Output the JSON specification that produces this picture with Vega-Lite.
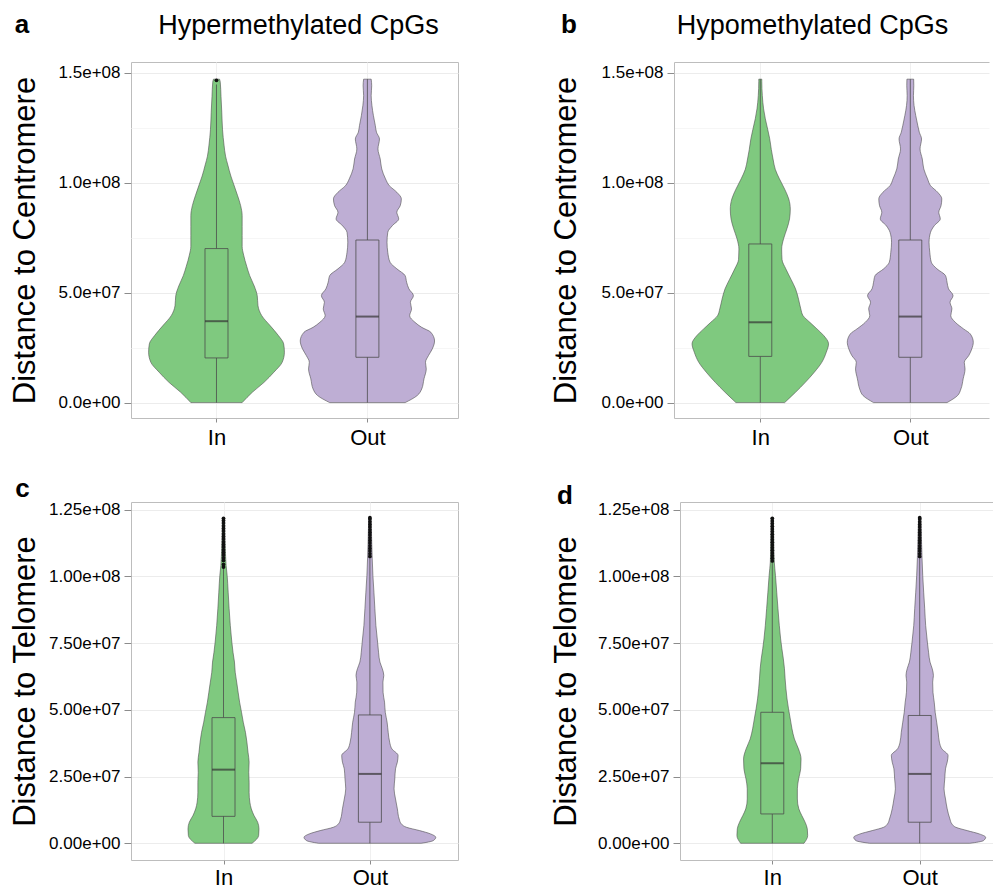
{
"$schema": "https://vega.github.io/schema/vega-lite/v6.json",
"padding": {"left": 8, "top": 11, "right": 0, "bottom": 0},
"background": "white",
"config": {
  "view": {"stroke": "#bdbdbd", "strokeWidth": 1},
  "axis": {"labelFont": "Liberation Sans", "labelColor": "#000", "labelFontSize": 17, "tickColor": "#8c8c8c", "tickSize": 7, "labelPadding": 4, "domainColor": "#bdbdbd", "titleFont": "Liberation Sans", "titleFontSize": 31, "titleFontWeight": "normal", "titleColor": "#000", "titlePadding": 7, "gridWidth": 1},
  "axisX": {"labelFontSize": 22, "tickSize": 4, "labelPadding": 5, "labelAngle": 0},
  "title": {"font": "Liberation Sans", "color": "#000", "fontWeight": "normal"}
},
"datasets": {
"vio": [
{"p":"a","g":"In","d":0,"w":0.34},{"p":"a","g":"In","d":4.7e6,"w":0.475},{"p":"a","g":"In","d":9.2e6,"w":0.63},{"p":"a","g":"In","d":1.38e7,"w":0.76},{"p":"a","g":"In","d":1.83e7,"w":0.87},{"p":"a","g":"In","d":2.29e7,"w":0.90},{"p":"a","g":"In","d":2.67e7,"w":0.89},{"p":"a","g":"In","d":3.05e7,"w":0.82},{"p":"a","g":"In","d":3.5e7,"w":0.71},{"p":"a","g":"In","d":3.95e7,"w":0.60},{"p":"a","g":"In","d":4.4e7,"w":0.55},{"p":"a","g":"In","d":4.86e7,"w":0.54},{"p":"a","g":"In","d":5.3e7,"w":0.50},{"p":"a","g":"In","d":5.77e7,"w":0.44},{"p":"a","g":"In","d":6.2e7,"w":0.40},{"p":"a","g":"In","d":6.7e7,"w":0.36},{"p":"a","g":"In","d":7.1e7,"w":0.34},{"p":"a","g":"In","d":7.6e7,"w":0.34},{"p":"a","g":"In","d":8.0e7,"w":0.34},{"p":"a","g":"In","d":8.5e7,"w":0.34},{"p":"a","g":"In","d":8.95e7,"w":0.32},{"p":"a","g":"In","d":9.4e7,"w":0.28},{"p":"a","g":"In","d":9.9e7,"w":0.23},{"p":"a","g":"In","d":1.03e8,"w":0.19},{"p":"a","g":"In","d":1.08e8,"w":0.15},{"p":"a","g":"In","d":1.12e8,"w":0.12},{"p":"a","g":"In","d":1.17e8,"w":0.10},{"p":"a","g":"In","d":1.24e8,"w":0.08},{"p":"a","g":"In","d":1.32e8,"w":0.07},{"p":"a","g":"In","d":1.39e8,"w":0.06},{"p":"a","g":"In","d":1.456e8,"w":0.05},{"p":"a","g":"In","d":1.47e8,"w":0.04},
{"p":"a","g":"Out","d":0,"w":0.50},{"p":"a","g":"Out","d":3.2e6,"w":0.66},{"p":"a","g":"Out","d":6.2e6,"w":0.72},{"p":"a","g":"Out","d":1.08e7,"w":0.75},{"p":"a","g":"Out","d":1.53e7,"w":0.78},{"p":"a","g":"Out","d":1.83e7,"w":0.77},{"p":"a","g":"Out","d":2.14e7,"w":0.81},{"p":"a","g":"Out","d":2.44e7,"w":0.86},{"p":"a","g":"Out","d":2.8e7,"w":0.89},{"p":"a","g":"Out","d":3.2e7,"w":0.84},{"p":"a","g":"Out","d":3.42e7,"w":0.72},{"p":"a","g":"Out","d":3.65e7,"w":0.63},{"p":"a","g":"Out","d":3.95e7,"w":0.56},{"p":"a","g":"Out","d":4.26e7,"w":0.585},{"p":"a","g":"Out","d":4.56e7,"w":0.57},{"p":"a","g":"Out","d":4.86e7,"w":0.61},{"p":"a","g":"Out","d":5.17e7,"w":0.55},{"p":"a","g":"Out","d":5.47e7,"w":0.52},{"p":"a","g":"Out","d":5.77e7,"w":0.50},{"p":"a","g":"Out","d":6.08e7,"w":0.39},{"p":"a","g":"Out","d":6.38e7,"w":0.30},{"p":"a","g":"Out","d":6.83e7,"w":0.27},{"p":"a","g":"Out","d":7.29e7,"w":0.26},{"p":"a","g":"Out","d":7.74e7,"w":0.27},{"p":"a","g":"Out","d":8.04e7,"w":0.33},{"p":"a","g":"Out","d":8.35e7,"w":0.415},{"p":"a","g":"Out","d":8.65e7,"w":0.39},{"p":"a","g":"Out","d":8.95e7,"w":0.435},{"p":"a","g":"Out","d":9.26e7,"w":0.45},{"p":"a","g":"Out","d":9.56e7,"w":0.39},{"p":"a","g":"Out","d":9.86e7,"w":0.29},{"p":"a","g":"Out","d":1.017e8,"w":0.24},{"p":"a","g":"Out","d":1.062e8,"w":0.19},{"p":"a","g":"Out","d":1.107e8,"w":0.17},{"p":"a","g":"Out","d":1.153e8,"w":0.14},{"p":"a","g":"Out","d":1.198e8,"w":0.16},{"p":"a","g":"Out","d":1.229e8,"w":0.12},{"p":"a","g":"Out","d":1.259e8,"w":0.105},{"p":"a","g":"Out","d":1.304e8,"w":0.08},{"p":"a","g":"Out","d":1.35e8,"w":0.06},{"p":"a","g":"Out","d":1.395e8,"w":0.05},{"p":"a","g":"Out","d":1.44e8,"w":0.057},{"p":"a","g":"Out","d":1.47e8,"w":0.05},
{"p":"b","g":"In","d":0,"w":0.325},{"p":"b","g":"In","d":4.7e6,"w":0.47},{"p":"b","g":"In","d":9.2e6,"w":0.60},{"p":"b","g":"In","d":1.38e7,"w":0.72},{"p":"b","g":"In","d":1.83e7,"w":0.82},{"p":"b","g":"In","d":2.29e7,"w":0.88},{"p":"b","g":"In","d":2.67e7,"w":0.91},{"p":"b","g":"In","d":3.05e7,"w":0.845},{"p":"b","g":"In","d":3.35e7,"w":0.755},{"p":"b","g":"In","d":3.65e7,"w":0.66},{"p":"b","g":"In","d":3.95e7,"w":0.57},{"p":"b","g":"In","d":4.26e7,"w":0.54},{"p":"b","g":"In","d":4.7e7,"w":0.51},{"p":"b","g":"In","d":5.17e7,"w":0.47},{"p":"b","g":"In","d":5.6e7,"w":0.41},{"p":"b","g":"In","d":6.08e7,"w":0.34},{"p":"b","g":"In","d":6.5e7,"w":0.29},{"p":"b","g":"In","d":6.98e7,"w":0.285},{"p":"b","g":"In","d":7.44e7,"w":0.31},{"p":"b","g":"In","d":7.9e7,"w":0.355},{"p":"b","g":"In","d":8.35e7,"w":0.39},{"p":"b","g":"In","d":8.8e7,"w":0.40},{"p":"b","g":"In","d":9.25e7,"w":0.38},{"p":"b","g":"In","d":9.7e7,"w":0.325},{"p":"b","g":"In","d":1.017e8,"w":0.255},{"p":"b","g":"In","d":1.06e8,"w":0.20},{"p":"b","g":"In","d":1.107e8,"w":0.17},{"p":"b","g":"In","d":1.15e8,"w":0.147},{"p":"b","g":"In","d":1.2e8,"w":0.125},{"p":"b","g":"In","d":1.24e8,"w":0.10},{"p":"b","g":"In","d":1.29e8,"w":0.067},{"p":"b","g":"In","d":1.335e8,"w":0.044},{"p":"b","g":"In","d":1.395e8,"w":0.027},{"p":"b","g":"In","d":1.46e8,"w":0.02},{"p":"b","g":"In","d":1.47e8,"w":0.02},
{"p":"b","g":"Out","d":0,"w":0.49},{"p":"b","g":"Out","d":3.2e6,"w":0.63},{"p":"b","g":"Out","d":6.2e6,"w":0.675},{"p":"b","g":"Out","d":1.08e7,"w":0.705},{"p":"b","g":"Out","d":1.53e7,"w":0.73},{"p":"b","g":"Out","d":1.83e7,"w":0.72},{"p":"b","g":"Out","d":2.14e7,"w":0.78},{"p":"b","g":"Out","d":2.44e7,"w":0.82},{"p":"b","g":"Out","d":2.74e7,"w":0.84},{"p":"b","g":"Out","d":3.12e7,"w":0.80},{"p":"b","g":"Out","d":3.35e7,"w":0.71},{"p":"b","g":"Out","d":3.65e7,"w":0.60},{"p":"b","g":"Out","d":3.95e7,"w":0.54},{"p":"b","g":"Out","d":4.26e7,"w":0.555},{"p":"b","g":"Out","d":4.56e7,"w":0.53},{"p":"b","g":"Out","d":4.86e7,"w":0.57},{"p":"b","g":"Out","d":5.17e7,"w":0.51},{"p":"b","g":"Out","d":5.47e7,"w":0.49},{"p":"b","g":"Out","d":5.77e7,"w":0.47},{"p":"b","g":"Out","d":6.08e7,"w":0.355},{"p":"b","g":"Out","d":6.38e7,"w":0.28},{"p":"b","g":"Out","d":6.83e7,"w":0.26},{"p":"b","g":"Out","d":7.29e7,"w":0.25},{"p":"b","g":"Out","d":7.74e7,"w":0.27},{"p":"b","g":"Out","d":8.04e7,"w":0.32},{"p":"b","g":"Out","d":8.35e7,"w":0.40},{"p":"b","g":"Out","d":8.65e7,"w":0.38},{"p":"b","g":"Out","d":8.95e7,"w":0.41},{"p":"b","g":"Out","d":9.26e7,"w":0.42},{"p":"b","g":"Out","d":9.56e7,"w":0.365},{"p":"b","g":"Out","d":9.86e7,"w":0.27},{"p":"b","g":"Out","d":1.017e8,"w":0.23},{"p":"b","g":"Out","d":1.062e8,"w":0.18},{"p":"b","g":"Out","d":1.107e8,"w":0.16},{"p":"b","g":"Out","d":1.153e8,"w":0.13},{"p":"b","g":"Out","d":1.198e8,"w":0.15},{"p":"b","g":"Out","d":1.229e8,"w":0.12},{"p":"b","g":"Out","d":1.259e8,"w":0.10},{"p":"b","g":"Out","d":1.304e8,"w":0.073},{"p":"b","g":"Out","d":1.35e8,"w":0.05},{"p":"b","g":"Out","d":1.395e8,"w":0.042},{"p":"b","g":"Out","d":1.44e8,"w":0.047},{"p":"b","g":"Out","d":1.47e8,"w":0.045},
{"p":"c","g":"In","d":0,"w":0.39},{"p":"c","g":"In","d":2.9e6,"w":0.48},{"p":"c","g":"In","d":5.4e6,"w":0.485},{"p":"c","g":"In","d":7.9e6,"w":0.467},{"p":"c","g":"In","d":1.04e7,"w":0.417},{"p":"c","g":"In","d":1.29e7,"w":0.38},{"p":"c","g":"In","d":1.54e7,"w":0.36},{"p":"c","g":"In","d":1.91e7,"w":0.35},{"p":"c","g":"In","d":2.29e7,"w":0.35},{"p":"c","g":"In","d":2.66e7,"w":0.345},{"p":"c","g":"In","d":3.04e7,"w":0.35},{"p":"c","g":"In","d":3.41e7,"w":0.335},{"p":"c","g":"In","d":3.79e7,"w":0.32},{"p":"c","g":"In","d":4.16e7,"w":0.30},{"p":"c","g":"In","d":4.54e7,"w":0.27},{"p":"c","g":"In","d":4.91e7,"w":0.246},{"p":"c","g":"In","d":5.29e7,"w":0.22},{"p":"c","g":"In","d":5.66e7,"w":0.20},{"p":"c","g":"In","d":6.04e7,"w":0.18},{"p":"c","g":"In","d":6.41e7,"w":0.16},{"p":"c","g":"In","d":6.79e7,"w":0.15},{"p":"c","g":"In","d":7.16e7,"w":0.13},{"p":"c","g":"In","d":7.54e7,"w":0.114},{"p":"c","g":"In","d":8.16e7,"w":0.093},{"p":"c","g":"In","d":8.79e7,"w":0.077},{"p":"c","g":"In","d":9.41e7,"w":0.064},{"p":"c","g":"In","d":1.004e8,"w":0.05},{"p":"c","g":"In","d":1.041e8,"w":0.036},{"p":"c","g":"In","d":1.104e8,"w":0.025},{"p":"c","g":"In","d":1.166e8,"w":0.018},{"p":"c","g":"In","d":1.22e8,"w":0.015},
{"p":"c","g":"Out","d":0,"w":0.70},{"p":"c","g":"Out","d":1.0e6,"w":0.865},{"p":"c","g":"Out","d":2.25e6,"w":0.90},{"p":"c","g":"Out","d":3.5e6,"w":0.83},{"p":"c","g":"Out","d":4.75e6,"w":0.68},{"p":"c","g":"Out","d":6.0e6,"w":0.50},{"p":"c","g":"Out","d":7.25e6,"w":0.43},{"p":"c","g":"Out","d":9.1e6,"w":0.40},{"p":"c","g":"Out","d":1.29e7,"w":0.375},{"p":"c","g":"Out","d":1.66e7,"w":0.35},{"p":"c","g":"Out","d":2.04e7,"w":0.33},{"p":"c","g":"Out","d":2.41e7,"w":0.34},{"p":"c","g":"Out","d":2.79e7,"w":0.35},{"p":"c","g":"Out","d":3.04e7,"w":0.375},{"p":"c","g":"Out","d":3.29e7,"w":0.385},{"p":"c","g":"Out","d":3.54e7,"w":0.30},{"p":"c","g":"Out","d":3.79e7,"w":0.27},{"p":"c","g":"Out","d":4.16e7,"w":0.25},{"p":"c","g":"Out","d":4.54e7,"w":0.235},{"p":"c","g":"Out","d":4.91e7,"w":0.21},{"p":"c","g":"Out","d":5.29e7,"w":0.20},{"p":"c","g":"Out","d":5.66e7,"w":0.18},{"p":"c","g":"Out","d":6.04e7,"w":0.178},{"p":"c","g":"Out","d":6.29e7,"w":0.19},{"p":"c","g":"Out","d":6.54e7,"w":0.17},{"p":"c","g":"Out","d":6.79e7,"w":0.137},{"p":"c","g":"Out","d":7.16e7,"w":0.118},{"p":"c","g":"Out","d":7.54e7,"w":0.105},{"p":"c","g":"Out","d":8.16e7,"w":0.082},{"p":"c","g":"Out","d":8.79e7,"w":0.068},{"p":"c","g":"Out","d":9.41e7,"w":0.055},{"p":"c","g":"Out","d":1.004e8,"w":0.041},{"p":"c","g":"Out","d":1.066e8,"w":0.032},{"p":"c","g":"Out","d":1.129e8,"w":0.025},{"p":"c","g":"Out","d":1.179e8,"w":0.02},{"p":"c","g":"Out","d":1.22e8,"w":0.015},
{"p":"d","g":"In","d":0,"w":0.43},{"p":"d","g":"In","d":2.9e6,"w":0.48},{"p":"d","g":"In","d":5.4e6,"w":0.475},{"p":"d","g":"In","d":7.9e6,"w":0.445},{"p":"d","g":"In","d":1.04e7,"w":0.40},{"p":"d","g":"In","d":1.29e7,"w":0.36},{"p":"d","g":"In","d":1.66e7,"w":0.34},{"p":"d","g":"In","d":2.04e7,"w":0.34},{"p":"d","g":"In","d":2.41e7,"w":0.357},{"p":"d","g":"In","d":2.79e7,"w":0.385},{"p":"d","g":"In","d":3.16e7,"w":0.39},{"p":"d","g":"In","d":3.54e7,"w":0.355},{"p":"d","g":"In","d":3.91e7,"w":0.30},{"p":"d","g":"In","d":4.29e7,"w":0.267},{"p":"d","g":"In","d":4.66e7,"w":0.244},{"p":"d","g":"In","d":5.04e7,"w":0.22},{"p":"d","g":"In","d":5.41e7,"w":0.20},{"p":"d","g":"In","d":5.79e7,"w":0.185},{"p":"d","g":"In","d":6.16e7,"w":0.174},{"p":"d","g":"In","d":6.54e7,"w":0.165},{"p":"d","g":"In","d":6.91e7,"w":0.15},{"p":"d","g":"In","d":7.29e7,"w":0.13},{"p":"d","g":"In","d":7.66e7,"w":0.113},{"p":"d","g":"In","d":8.16e7,"w":0.095},{"p":"d","g":"In","d":8.79e7,"w":0.077},{"p":"d","g":"In","d":9.41e7,"w":0.06},{"p":"d","g":"In","d":1.004e8,"w":0.043},{"p":"d","g":"In","d":1.054e8,"w":0.027},{"p":"d","g":"In","d":1.129e8,"w":0.02},{"p":"d","g":"In","d":1.22e8,"w":0.015},
{"p":"d","g":"Out","d":0,"w":0.68},{"p":"d","g":"Out","d":1.0e6,"w":0.865},{"p":"d","g":"Out","d":2.25e6,"w":0.895},{"p":"d","g":"Out","d":3.5e6,"w":0.81},{"p":"d","g":"Out","d":4.75e6,"w":0.645},{"p":"d","g":"Out","d":6.0e6,"w":0.49},{"p":"d","g":"Out","d":7.25e6,"w":0.437},{"p":"d","g":"Out","d":9.1e6,"w":0.41},{"p":"d","g":"Out","d":1.29e7,"w":0.373},{"p":"d","g":"Out","d":1.66e7,"w":0.35},{"p":"d","g":"Out","d":2.04e7,"w":0.33},{"p":"d","g":"Out","d":2.41e7,"w":0.34},{"p":"d","g":"Out","d":2.79e7,"w":0.35},{"p":"d","g":"Out","d":3.04e7,"w":0.373},{"p":"d","g":"Out","d":3.29e7,"w":0.385},{"p":"d","g":"Out","d":3.54e7,"w":0.30},{"p":"d","g":"Out","d":3.79e7,"w":0.267},{"p":"d","g":"Out","d":4.16e7,"w":0.25},{"p":"d","g":"Out","d":4.54e7,"w":0.23},{"p":"d","g":"Out","d":4.91e7,"w":0.21},{"p":"d","g":"Out","d":5.29e7,"w":0.197},{"p":"d","g":"Out","d":5.66e7,"w":0.18},{"p":"d","g":"Out","d":6.04e7,"w":0.176},{"p":"d","g":"Out","d":6.29e7,"w":0.186},{"p":"d","g":"Out","d":6.54e7,"w":0.17},{"p":"d","g":"Out","d":6.79e7,"w":0.14},{"p":"d","g":"Out","d":7.16e7,"w":0.12},{"p":"d","g":"Out","d":7.54e7,"w":0.104},{"p":"d","g":"Out","d":8.16e7,"w":0.081},{"p":"d","g":"Out","d":8.79e7,"w":0.068},{"p":"d","g":"Out","d":9.41e7,"w":0.054},{"p":"d","g":"Out","d":1.004e8,"w":0.041},{"p":"d","g":"Out","d":1.066e8,"w":0.032},{"p":"d","g":"Out","d":1.129e8,"w":0.025},{"p":"d","g":"Out","d":1.179e8,"w":0.02},{"p":"d","g":"Out","d":1.22e8,"w":0.015}
],
"box": [
{"p":"a","g":"In","lo":0,"q1":2.03e7,"med":3.7e7,"q3":7.0e7,"hi":1.446e8},
{"p":"a","g":"Out","lo":0,"q1":2.06e7,"med":3.91e7,"q3":7.39e7,"hi":1.47e8},
{"p":"b","g":"In","lo":0,"q1":2.1e7,"med":3.65e7,"q3":7.21e7,"hi":1.47e8},
{"p":"b","g":"Out","lo":0,"q1":2.06e7,"med":3.91e7,"q3":7.39e7,"hi":1.47e8},
{"p":"c","g":"In","lo":0,"q1":1.01e7,"med":2.76e7,"q3":4.71e7,"hi":1.03e8},
{"p":"c","g":"Out","lo":0,"q1":7.9e6,"med":2.6e7,"q3":4.81e7,"hi":1.075e8},
{"p":"d","g":"In","lo":0,"q1":1.1e7,"med":3.0e7,"q3":4.91e7,"hi":1.055e8},
{"p":"d","g":"Out","lo":0,"q1":7.9e6,"med":2.6e7,"q3":4.79e7,"hi":1.075e8}
],
"out": [
{"p":"a","g":"In","v":1.465e8},
{"p":"c","g":"In","v":1.035e8},{"p":"c","g":"In","v":1.045e8},{"p":"c","g":"In","v":1.06e8},{"p":"c","g":"In","v":1.07e8},{"p":"c","g":"In","v":1.08e8},{"p":"c","g":"In","v":1.09e8},{"p":"c","g":"In","v":1.10e8},{"p":"c","g":"In","v":1.11e8},{"p":"c","g":"In","v":1.12e8},{"p":"c","g":"In","v":1.13e8},{"p":"c","g":"In","v":1.14e8},{"p":"c","g":"In","v":1.15e8},{"p":"c","g":"In","v":1.16e8},{"p":"c","g":"In","v":1.17e8},{"p":"c","g":"In","v":1.18e8},{"p":"c","g":"In","v":1.19e8},{"p":"c","g":"In","v":1.20e8},{"p":"c","g":"In","v":1.21e8},{"p":"c","g":"In","v":1.218e8},
{"p":"c","g":"Out","v":1.075e8},{"p":"c","g":"Out","v":1.085e8},{"p":"c","g":"Out","v":1.095e8},{"p":"c","g":"Out","v":1.105e8},{"p":"c","g":"Out","v":1.115e8},{"p":"c","g":"Out","v":1.125e8},{"p":"c","g":"Out","v":1.135e8},{"p":"c","g":"Out","v":1.145e8},{"p":"c","g":"Out","v":1.155e8},{"p":"c","g":"Out","v":1.165e8},{"p":"c","g":"Out","v":1.175e8},{"p":"c","g":"Out","v":1.185e8},{"p":"c","g":"Out","v":1.195e8},{"p":"c","g":"Out","v":1.205e8},{"p":"c","g":"Out","v":1.215e8},{"p":"c","g":"Out","v":1.22e8},
{"p":"d","g":"In","v":1.058e8},{"p":"d","g":"In","v":1.068e8},{"p":"d","g":"In","v":1.078e8},{"p":"d","g":"In","v":1.088e8},{"p":"d","g":"In","v":1.098e8},{"p":"d","g":"In","v":1.108e8},{"p":"d","g":"In","v":1.118e8},{"p":"d","g":"In","v":1.128e8},{"p":"d","g":"In","v":1.138e8},{"p":"d","g":"In","v":1.148e8},{"p":"d","g":"In","v":1.158e8},{"p":"d","g":"In","v":1.168e8},{"p":"d","g":"In","v":1.178e8},{"p":"d","g":"In","v":1.188e8},{"p":"d","g":"In","v":1.198e8},{"p":"d","g":"In","v":1.208e8},{"p":"d","g":"In","v":1.218e8},
{"p":"d","g":"Out","v":1.075e8},{"p":"d","g":"Out","v":1.085e8},{"p":"d","g":"Out","v":1.095e8},{"p":"d","g":"Out","v":1.105e8},{"p":"d","g":"Out","v":1.115e8},{"p":"d","g":"Out","v":1.125e8},{"p":"d","g":"Out","v":1.135e8},{"p":"d","g":"Out","v":1.145e8},{"p":"d","g":"Out","v":1.155e8},{"p":"d","g":"Out","v":1.165e8},{"p":"d","g":"Out","v":1.175e8},{"p":"d","g":"Out","v":1.185e8},{"p":"d","g":"Out","v":1.195e8},{"p":"d","g":"Out","v":1.205e8},{"p":"d","g":"Out","v":1.215e8},{"p":"d","g":"Out","v":1.22e8}
]
},
"columns": 2,
"align": {"row": "each", "column": "none"},
"spacing": {"row": 26, "column": 90},
"concat": [
 {"title": {"text": "a", "anchor": "start", "frame": "bounds", "fontSize": 26, "fontWeight": "bold", "dx": 6, "offset": -47, "baseline": "alphabetic"},
  "vconcat": [
  {"title": {"text": "Hypermethylated CpGs", "fontSize": 27, "anchor": "middle", "frame": "group", "dx": 4, "offset": 1, "baseline": "alphabetic"},
   "width": 327, "height": 356,
   "resolve": {"scale": {"x": "independent"}},
   "layer": [
    {"data": {"name": "vio"}, "transform": [{"filter": "datum.p == 'a' && datum.g == 'In'"}],
     "mark": {"type": "area", "orient": "horizontal", "interpolate": "monotone", "stroke": "#4d4d4d", "strokeWidth": 0.7, "strokeOpacity": 0.85, "fillOpacity": 1},
     "encoding": {
      "y": {"field": "d", "type": "quantitative", "title": "Distance to Centromere", "scale": {"domain": [-7.0e6, 1.548e8], "nice": false, "zero": false},
        "axis": {"values": [0, 25000000, 50000000, 75000000, 100000000, 125000000, 150000000], "labelExpr": "datum.value % 50000000 != 0 ? '' : replace(format(datum.value, '.1e'), regexp('e[+]([0-9])$'), 'e+0$1')", "gridColor": {"condition": {"test": "datum.value % 50000000 != 0", "value": "#f6f6f6"}, "value": "#ececec"}, "tickOpacity": {"condition": {"test": "datum.value % 50000000 != 0", "value": 0}, "value": 1}, "domain": false, "titleX": -96.7, "titleBaseline": "alphabetic"}},
      "x": {"field": "w", "type": "quantitative", "stack": "center", "impute": null, "scale": {"domain": [-0.1166, 2.0504], "nice": false, "zero": false}, "axis": null},
      "color": {"field": "g", "type": "nominal", "scale": {"domain": ["In", "Out"], "range": ["#7fc97f", "#beaed4"]}, "legend": null}}},
    {"data": {"name": "vio"}, "transform": [{"filter": "datum.p == 'a' && datum.g == 'Out'"}],
     "mark": {"type": "area", "orient": "horizontal", "interpolate": "monotone", "stroke": "#4d4d4d", "strokeWidth": 0.7, "strokeOpacity": 0.85, "fillOpacity": 1},
     "encoding": {
      "y": {"field": "d", "type": "quantitative", "title": "Distance to Centromere"},
      "x": {"field": "w", "type": "quantitative", "stack": "center", "impute": null, "scale": {"domain": [-1.1216, 1.0454], "nice": false, "zero": false}, "axis": null},
      "color": {"field": "g", "type": "nominal", "legend": null}}},
    {"layer": [
     {"data": {"name": "box"}, "transform": [{"filter": "datum.p == 'a'"}],
      "mark": {"type": "rule", "color": "#4d4d4d", "strokeWidth": 0.8},
      "encoding": {
       "x": {"field": "g", "type": "nominal", "scale": {"type": "point", "domain": ["In", "Out"], "padding": 0.5835, "align": 0.4855, "round": false}, "axis": {"title": null, "domain": false, "grid": true, "gridColor": "#f0f0f0"}},
       "y": {"field": "lo", "type": "quantitative", "title": "Distance to Centromere"}, "y2": {"field": "hi"}}},
     {"data": {"name": "box"}, "transform": [{"filter": "datum.p == 'a'"}],
      "mark": {"type": "bar", "size": 23, "stroke": "#4d4d4d", "strokeWidth": 0.8, "fillOpacity": 1},
      "encoding": {
       "x": {"field": "g", "type": "nominal", "title": null},
       "y": {"field": "q1", "type": "quantitative", "title": "Distance to Centromere"}, "y2": {"field": "q3"},
       "color": {"field": "g", "type": "nominal", "legend": null}}},
     {"data": {"name": "box"}, "transform": [{"filter": "datum.p == 'a'"}],
      "mark": {"type": "tick", "size": 23, "thickness": 2, "color": "#333333"},
      "encoding": {
       "x": {"field": "g", "type": "nominal", "title": null},
       "y": {"field": "med", "type": "quantitative", "title": "Distance to Centromere"}}},
     {"data": {"name": "out"}, "transform": [{"filter": "datum.p == 'a'"}],
      "mark": {"type": "point", "filled": true, "size": 14, "color": "#111111", "opacity": 1},
      "encoding": {
       "x": {"field": "g", "type": "nominal", "title": null},
       "y": {"field": "v", "type": "quantitative", "title": "Distance to Centromere"}}}
    ]}
   ]}
 ]},
 {"title": {"text": "b", "anchor": "start", "frame": "bounds", "fontSize": 26, "fontWeight": "bold", "dx": 11, "offset": -47, "baseline": "alphabetic"},
  "vconcat": [
  {"title": {"text": "Hypomethylated CpGs", "fontSize": 27, "anchor": "middle", "frame": "group", "dx": -19, "offset": 1, "baseline": "alphabetic"},
   "width": 315, "height": 356,
   "view": {"stroke": null},
   "resolve": {"scale": {"x": "independent"}},
   "layer": [
    {"data": {"name": "vio"}, "transform": [{"filter": "datum.p == 'b' && datum.g == 'In'"}],
     "mark": {"type": "area", "orient": "horizontal", "interpolate": "monotone", "stroke": "#4d4d4d", "strokeWidth": 0.7, "strokeOpacity": 0.85, "fillOpacity": 1},
     "encoding": {
      "y": {"field": "d", "type": "quantitative", "title": "Distance to Centromere", "scale": {"domain": [-7.0e6, 1.548e8], "nice": false, "zero": false},
        "axis": {"values": [0, 25000000, 50000000, 75000000, 100000000, 125000000, 150000000], "labelExpr": "datum.value % 50000000 != 0 ? '' : replace(format(datum.value, '.1e'), regexp('e[+]([0-9])$'), 'e+0$1')", "gridColor": {"condition": {"test": "datum.value % 50000000 != 0", "value": "#f6f6f6"}, "value": "#ececec"}, "tickOpacity": {"condition": {"test": "datum.value % 50000000 != 0", "value": 0}, "value": 1}, "domain": true, "titleX": -99, "titleBaseline": "alphabetic"}},
      "x": {"field": "w", "type": "quantitative", "stack": "center", "impute": null, "scale": {"domain": [-0.1203, 1.9797], "nice": false, "zero": false}, "axis": {"orient": "top", "labels": false, "ticks": false, "grid": false, "domain": true, "title": null}},
      "color": {"field": "g", "type": "nominal", "scale": {"domain": ["In", "Out"], "range": ["#7fc97f", "#beaed4"]}, "legend": null}}},
    {"data": {"name": "vio"}, "transform": [{"filter": "datum.p == 'b' && datum.g == 'Out'"}],
     "mark": {"type": "area", "orient": "horizontal", "interpolate": "monotone", "stroke": "#4d4d4d", "strokeWidth": 0.7, "strokeOpacity": 0.85, "fillOpacity": 1},
     "encoding": {
      "y": {"field": "d", "type": "quantitative", "title": "Distance to Centromere"},
      "x": {"field": "w", "type": "quantitative", "stack": "center", "impute": null, "scale": {"domain": [-1.1553, 0.9447], "nice": false, "zero": false}, "axis": null},
      "color": {"field": "g", "type": "nominal", "legend": null}}},
    {"layer": [
     {"data": {"name": "box"}, "transform": [{"filter": "datum.p == 'b'"}],
      "mark": {"type": "rule", "color": "#4d4d4d", "strokeWidth": 0.8},
      "encoding": {
       "x": {"field": "g", "type": "nominal", "scale": {"type": "point", "domain": ["In", "Out"], "padding": 0.55, "align": 0.523, "round": false}, "axis": {"title": null, "domain": true, "grid": true, "gridColor": "#f0f0f0"}},
       "y": {"field": "lo", "type": "quantitative", "title": "Distance to Centromere"}, "y2": {"field": "hi"}}},
     {"data": {"name": "box"}, "transform": [{"filter": "datum.p == 'b'"}],
      "mark": {"type": "bar", "size": 23, "stroke": "#4d4d4d", "strokeWidth": 0.8, "fillOpacity": 1},
      "encoding": {
       "x": {"field": "g", "type": "nominal", "title": null},
       "y": {"field": "q1", "type": "quantitative", "title": "Distance to Centromere"}, "y2": {"field": "q3"},
       "color": {"field": "g", "type": "nominal", "legend": null}}},
     {"data": {"name": "box"}, "transform": [{"filter": "datum.p == 'b'"}],
      "mark": {"type": "tick", "size": 23, "thickness": 2, "color": "#333333"},
      "encoding": {
       "x": {"field": "g", "type": "nominal", "title": null},
       "y": {"field": "med", "type": "quantitative", "title": "Distance to Centromere"}}}
    ]}
   ]}
 ]},
 {"title": {"text": "c", "anchor": "start", "frame": "bounds", "fontSize": 26, "fontWeight": "bold", "dx": 6, "offset": -22, "baseline": "alphabetic"},
  "width": 327, "height": 358,
  "resolve": {"scale": {"x": "independent"}},
  "layer": [
   {"data": {"name": "vio"}, "transform": [{"filter": "datum.p == 'c' && datum.g == 'In'"}],
    "mark": {"type": "area", "orient": "horizontal", "interpolate": "monotone", "stroke": "#4d4d4d", "strokeWidth": 0.7, "strokeOpacity": 0.85, "fillOpacity": 1},
    "encoding": {
     "y": {"field": "d", "type": "quantitative", "title": "Distance to Telomere", "scale": {"domain": [-6.26e6, 1.279e8], "nice": false, "zero": false},
       "axis": {"values": [0, 12500000, 25000000, 37500000, 50000000, 62500000, 75000000, 87500000, 100000000, 112500000, 125000000], "labelExpr": "datum.value % 25000000 != 0 ? '' : replace(format(datum.value, '.2e'), regexp('e[+]([0-9])$'), 'e+0$1')", "gridColor": {"condition": {"test": "datum.value % 25000000 != 0", "value": "#f6f6f6"}, "value": "#ececec"}, "tickOpacity": {"condition": {"test": "datum.value % 25000000 != 0", "value": 0}, "value": 1}, "domain": false, "titleX": -96.7, "titleBaseline": "alphabetic"}},
     "x": {"field": "w", "type": "quantitative", "stack": "center", "impute": null, "scale": {"domain": [-0.3893, 1.8443], "nice": false, "zero": false}, "axis": null},
     "color": {"field": "g", "type": "nominal", "scale": {"domain": ["In", "Out"], "range": ["#7fc97f", "#beaed4"]}, "legend": null}}},
   {"data": {"name": "vio"}, "transform": [{"filter": "datum.p == 'c' && datum.g == 'Out'"}],
    "mark": {"type": "area", "orient": "horizontal", "interpolate": "monotone", "stroke": "#4d4d4d", "strokeWidth": 0.7, "strokeOpacity": 0.85, "fillOpacity": 1},
    "encoding": {
     "y": {"field": "d", "type": "quantitative", "title": "Distance to Telomere"},
     "x": {"field": "w", "type": "quantitative", "stack": "center", "impute": null, "scale": {"domain": [-1.1818, 1.0518], "nice": false, "zero": false}, "axis": null},
     "color": {"field": "g", "type": "nominal", "legend": null}}},
   {"layer": [
    {"data": {"name": "box"}, "transform": [{"filter": "datum.p == 'c'"}],
     "mark": {"type": "rule", "color": "#4d4d4d", "strokeWidth": 0.8},
     "encoding": {
      "x": {"field": "g", "type": "nominal", "scale": {"type": "point", "domain": ["In", "Out"], "padding": 0.6168, "align": 0.5122, "round": false}, "axis": {"title": null, "domain": false, "grid": true, "gridColor": "#f0f0f0", "labelPadding": 3}},
      "y": {"field": "lo", "type": "quantitative", "title": "Distance to Telomere"}, "y2": {"field": "hi"}}},
    {"data": {"name": "box"}, "transform": [{"filter": "datum.p == 'c'"}],
     "mark": {"type": "bar", "size": 23, "stroke": "#4d4d4d", "strokeWidth": 0.8, "fillOpacity": 1},
     "encoding": {
      "x": {"field": "g", "type": "nominal", "title": null},
      "y": {"field": "q1", "type": "quantitative", "title": "Distance to Telomere"}, "y2": {"field": "q3"},
      "color": {"field": "g", "type": "nominal", "legend": null}}},
    {"data": {"name": "box"}, "transform": [{"filter": "datum.p == 'c'"}],
     "mark": {"type": "tick", "size": 23, "thickness": 2, "color": "#333333"},
     "encoding": {
      "x": {"field": "g", "type": "nominal", "title": null},
      "y": {"field": "med", "type": "quantitative", "title": "Distance to Telomere"}}},
    {"data": {"name": "out"}, "transform": [{"filter": "datum.p == 'c'"}],
     "mark": {"type": "point", "filled": true, "size": 14, "color": "#111111", "opacity": 1},
     "encoding": {
      "x": {"field": "g", "type": "nominal", "title": null},
      "y": {"field": "v", "type": "quantitative", "title": "Distance to Telomere"}}}
   ]}
  ]},
 {"title": {"text": "d", "anchor": "start", "frame": "bounds", "fontSize": 26, "fontWeight": "bold", "dx": 7, "offset": -29, "baseline": "alphabetic"},
  "width": 315, "height": 358,
  "view": {"stroke": null},
  "resolve": {"scale": {"x": "independent"}},
  "layer": [
   {"data": {"name": "vio"}, "transform": [{"filter": "datum.p == 'd' && datum.g == 'In'"}],
    "mark": {"type": "area", "orient": "horizontal", "interpolate": "monotone", "stroke": "#4d4d4d", "strokeWidth": 0.7, "strokeOpacity": 0.85, "fillOpacity": 1},
    "encoding": {
     "y": {"field": "d", "type": "quantitative", "title": "Distance to Telomere", "scale": {"domain": [-6.26e6, 1.279e8], "nice": false, "zero": false},
       "axis": {"values": [0, 12500000, 25000000, 37500000, 50000000, 62500000, 75000000, 87500000, 100000000, 112500000, 125000000], "labelExpr": "datum.value % 25000000 != 0 ? '' : replace(format(datum.value, '.2e'), regexp('e[+]([0-9])$'), 'e+0$1')", "gridColor": {"condition": {"test": "datum.value % 25000000 != 0", "value": "#f6f6f6"}, "value": "#ececec"}, "tickOpacity": {"condition": {"test": "datum.value % 25000000 != 0", "value": 0}, "value": 1}, "domain": true, "titleX": -105, "titleBaseline": "alphabetic"}},
     "x": {"field": "w", "type": "quantitative", "stack": "center", "impute": null, "scale": {"domain": [-0.3862, 1.7508], "nice": false, "zero": false}, "axis": {"orient": "top", "labels": false, "ticks": false, "grid": false, "domain": true, "title": null}},
     "color": {"field": "g", "type": "nominal", "scale": {"domain": ["In", "Out"], "range": ["#7fc97f", "#beaed4"]}, "legend": null}}},
   {"data": {"name": "vio"}, "transform": [{"filter": "datum.p == 'd' && datum.g == 'Out'"}],
    "mark": {"type": "area", "orient": "horizontal", "interpolate": "monotone", "stroke": "#4d4d4d", "strokeWidth": 0.7, "strokeOpacity": 0.85, "fillOpacity": 1},
    "encoding": {
     "y": {"field": "d", "type": "quantitative", "title": "Distance to Telomere"},
     "x": {"field": "w", "type": "quantitative", "stack": "center", "impute": null, "scale": {"domain": [-1.1787, 0.9583], "nice": false, "zero": false}, "axis": null},
     "color": {"field": "g", "type": "nominal", "legend": null}}},
   {"layer": [
    {"data": {"name": "box"}, "transform": [{"filter": "datum.p == 'd'"}],
     "mark": {"type": "rule", "color": "#4d4d4d", "strokeWidth": 0.8},
     "encoding": {
      "x": {"field": "g", "type": "nominal", "scale": {"type": "point", "domain": ["In", "Out"], "padding": 0.5685, "align": 0.5507, "round": false}, "axis": {"title": null, "domain": true, "grid": true, "gridColor": "#f0f0f0", "labelPadding": 3}},
      "y": {"field": "lo", "type": "quantitative", "title": "Distance to Telomere"}, "y2": {"field": "hi"}}},
    {"data": {"name": "box"}, "transform": [{"filter": "datum.p == 'd'"}],
     "mark": {"type": "bar", "size": 23, "stroke": "#4d4d4d", "strokeWidth": 0.8, "fillOpacity": 1},
     "encoding": {
      "x": {"field": "g", "type": "nominal", "title": null},
      "y": {"field": "q1", "type": "quantitative", "title": "Distance to Telomere"}, "y2": {"field": "q3"},
      "color": {"field": "g", "type": "nominal", "legend": null}}},
    {"data": {"name": "box"}, "transform": [{"filter": "datum.p == 'd'"}],
     "mark": {"type": "tick", "size": 23, "thickness": 2, "color": "#333333"},
     "encoding": {
      "x": {"field": "g", "type": "nominal", "title": null},
      "y": {"field": "med", "type": "quantitative", "title": "Distance to Telomere"}}},
    {"data": {"name": "out"}, "transform": [{"filter": "datum.p == 'd'"}],
     "mark": {"type": "point", "filled": true, "size": 14, "color": "#111111", "opacity": 1},
     "encoding": {
      "x": {"field": "g", "type": "nominal", "title": null},
      "y": {"field": "v", "type": "quantitative", "title": "Distance to Telomere"}}}
   ]}
  ]}
]
}
